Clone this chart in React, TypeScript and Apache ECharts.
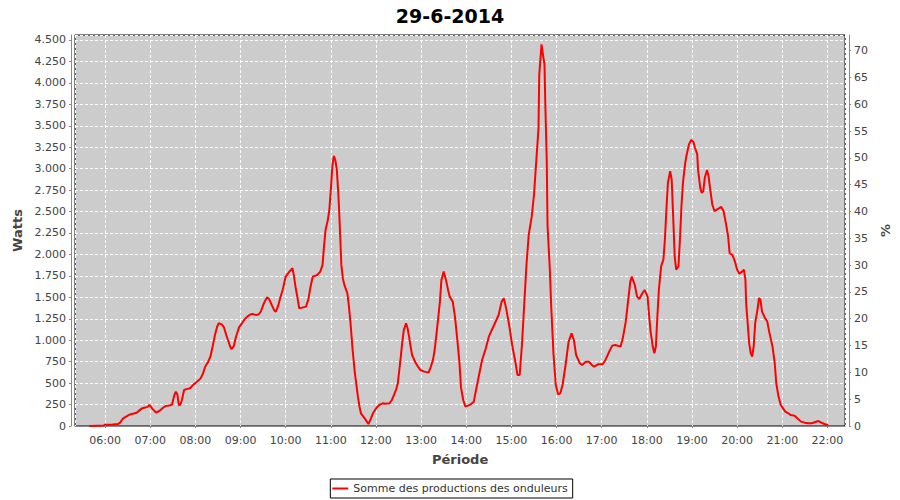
import React, { useEffect, useRef } from "react";
import * as echarts from "echarts";

const TITLE = "29-6-2014";
const SERIES_NAME = "Somme des productions des onduleurs";
const X_NAME = "Période";
const Y_LEFT_NAME = "Watts";
const Y_RIGHT_NAME = "%";

const TIMES = [
  "05:39","05:50","05:58","06:00","06:10","06:17","06:20","06:24","06:28","06:33",
  "06:38","06:42","06:46","06:49","06:53","06:56","06:59","07:03","07:08","07:12",
  "07:16","07:20","07:22","07:26","07:29","07:32","07:34","07:36","07:38","07:40",
  "07:42","07:45","07:48","07:53","07:57","08:00","08:04","08:07","08:10","08:13",
  "08:17","08:20","08:23","08:26","08:29","08:31","08:35","08:38","08:41","08:44",
  "08:46","08:48","08:51","08:54","08:58","09:02","09:06","09:09","09:13","09:16",
  "09:20","09:24","09:27","09:31","09:35","09:38","09:42","09:45","09:47","09:50",
  "09:53","09:56","10:00","10:05","10:09","10:11","10:13","10:16","10:18","10:22",
  "10:27","10:30","10:33","10:36","10:42","10:46","10:49","10:51","10:53","10:56",
  "10:58","11:00","11:02","11:04","11:06","11:08","11:10","11:11","11:13","11:14",
  "11:16","11:18","11:22","11:24","11:26","11:29","11:32","11:34","11:36","11:38",
  "11:40","11:45","11:50","11:53","11:56","11:59","12:02","12:05","12:09","12:13",
  "12:18","12:21","12:24","12:27","12:29","12:31","12:33","12:35","12:37","12:40",
  "12:42","12:44","12:46","12:48","12:53","12:56","12:59","13:04","13:10","13:13",
  "13:16","13:18","13:20","13:22","13:25","13:27","13:30","13:33","13:36","13:38",
  "13:42","13:45","13:47","13:49","13:51","13:53","13:56","13:59","14:03","14:06",
  "14:10","14:13","14:17","14:21","14:26","14:30","14:37","14:43","14:47","14:50",
  "14:53","14:57","15:01","15:06","15:08","15:11","15:14","15:17","15:20","15:23",
  "15:27","15:30","15:33","15:36","15:37","15:40","15:42","15:44","15:45","15:47",
  "15:48","15:51","15:53","15:56","15:59","16:02","16:05","16:08","16:12","16:16",
  "16:20","16:23","16:26","16:31","16:34","16:39","16:43","16:47","16:50","16:55",
  "17:01","17:05","17:10","17:14","17:18","17:25","17:28","17:32","17:35","17:38",
  "17:40","17:44","17:47","17:50","17:54","17:57","18:01","18:03","18:05","18:08",
  "18:10","18:12","18:14","18:16","18:19","18:22","18:24","18:26","18:28","18:31",
  "18:33","18:35","18:37","18:39","18:42","18:44","18:46","18:48","18:51","18:53",
  "18:56","18:59","19:02","19:04","19:07","19:08","19:11","19:13","19:15","19:17",
  "19:20","19:22","19:24","19:27","19:30","19:33","19:39","19:42","19:45","19:48",
  "19:50","19:54","19:57","20:00","20:03","20:07","20:09","20:11","20:12","20:14",
  "20:16","20:18","20:20","20:22","20:24","20:27","20:29","20:31","20:33","20:36",
  "20:40","20:43","20:47","20:50","20:52","20:55","20:58","21:01","21:04","21:08",
  "21:11","21:16","21:21","21:25","21:30","21:34","21:39","21:43","21:48","21:52",
  "21:56","22:01"
];

const WATTS = [
  0,3,5,15,18,22,40,90,110,135,
  145,155,185,205,215,220,245,200,155,175,
  205,230,237,240,250,360,400,370,240,250,
  300,420,430,440,480,500,530,555,610,690,
  750,810,930,1060,1160,1200,1185,1150,1060,985,
  930,895,930,1040,1150,1200,1250,1275,1300,1305,
  1295,1300,1335,1430,1500,1480,1400,1345,1334,1400,
  1500,1586,1742,1800,1839,1750,1625,1480,1372,1380,
  1392,1470,1620,1742,1761,1800,1878,2100,2286,2400,
  2519,2750,3025,3149,3100,2986,2700,2519,2100,1878,
  1720,1645,1547,1400,1217,886,614,480,342,230,
  148,89,23,80,148,190,225,250,264,260,
  264,300,362,430,498,650,809,980,1120,1198,
  1140,1042,930,828,731,690,653,634,622,692,
  780,886,1040,1198,1450,1703,1800,1703,1580,1508,
  1450,1275,1100,925,730,450,300,225,240,253,
  284,420,595,770,905,1041,1177,1294,1450,1488,
  1372,1177,944,711,595,595,944,1411,1877,2227,
  2440,2693,3082,3470,4092,4449,4325,4209,3781,3082,
  2343,1838,1372,828,478,369,381,478,711,983,
  1080,1003,828,731,711,750,750,711,692,719,
  719,770,867,937,944,925,1022,1216,1450,1683,
  1741,1644,1508,1481,1547,1586,1508,1290,1100,920,
  849,927,1277,1589,1861,1939,2173,2523,2835,2971,
  2874,2445,1978,1822,1861,2173,2562,2835,3068,3166,
  3283,3333,3310,3244,3166,2991,2776,2718,2737,2893,
  2983,2913,2776,2582,2504,2523,2554,2504,2368,2212,
  2017,1990,1920,1822,1776,1803,1822,1706,1433,1199,
  966,849,810,927,1199,1355,1491,1472,1336,1277,
  1219,1083,927,732,498,343,245,206,167,148,
  128,121,82,51,39,31,31,43,58,39,
  23,8
];

const X_MIN = "05:20";
const X_MAX = "22:23:30";
const Y_LEFT_MAX = 4558;
const Y_RIGHT_MAX = 72.9;

const FONT = "DejaVu Sans";

function toTs(s: string): number {
  const p = s.split(":").map(Number);
  return new Date(2014, 5, 29, p[0], p[1], p[2] || 0).getTime();
}

function fmtThousands(v: number): string {
  const s = String(Math.round(v));
  return s.replace(/\B(?=(\d{3})+(?!\d))/g, ".");
}

export default function App() {
  const ref = useRef<HTMLDivElement>(null);
  useEffect(() => {
    if (!ref.current) return;
    const chart = echarts.init(ref.current, null, { renderer: "svg" });
    const data = TIMES.map((t, i) => [toTs(t), WATTS[i]]);
    const axisGray = "#888888";
    const labelColor = "#444444";
    const nameStyle = { fontFamily: FONT, fontSize: 13, fontWeight: "bold", color: labelColor };
    chart.setOption({
      animation: false,
      backgroundColor: "#ffffff",
      title: {
        text: TITLE,
        left: "center",
        top: 1,
        textStyle: { fontFamily: FONT, fontSize: 19, fontWeight: "bold", color: "#000" },
      },
      grid: {
        left: 75,
        right: 53,
        top: 35,
        bottom: 74,
        show: true,
        backgroundColor: "#CCCCCC",
        borderColor: "#000000",
        borderWidth: 1,
      },
      legend: {
        bottom: 2,
        left: "center",
        borderColor: "#000",
        borderWidth: 1,
        borderRadius: 0,
        padding: [4, 5, 4, 2],
        icon: "rect",
        itemWidth: 16,
        itemHeight: 2,
        textStyle: { fontFamily: FONT, fontSize: 11, color: "#333" },
        data: [SERIES_NAME],
      },
      xAxis: {
        type: "time",
        min: toTs(X_MIN),
        max: toTs(X_MAX),
        minInterval: 3600 * 1000,
        maxInterval: 3600 * 1000,
        offset: 4,
        name: X_NAME,
        nameLocation: "middle",
        nameGap: 23,
        nameTextStyle: nameStyle,
        axisLine: { show: true, lineStyle: { color: axisGray } },
        axisTick: { show: true, length: 2, lineStyle: { color: axisGray } },
        axisLabel: {
          formatter: "{HH}:{mm}",
          showMinLabel: false,
          showMaxLabel: false,
          fontFamily: FONT,
          fontSize: 11,
          color: labelColor,
          margin: 5,
        },
        splitLine: { show: true, lineStyle: { color: "#ffffff", type: [3, 2], width: 1 } },
      },
      yAxis: [
        {
          type: "value",
          min: 0,
          max: Y_LEFT_MAX,
          interval: 250,
          offset: 4,
          name: Y_LEFT_NAME,
          nameLocation: "middle",
          nameGap: 40,
          nameTextStyle: nameStyle,
          axisLine: { show: true, lineStyle: { color: axisGray } },
          axisTick: { show: true, length: 2, lineStyle: { color: axisGray } },
          axisLabel: {
            formatter: (v: number) => fmtThousands(v),
            showMaxLabel: false,
            fontFamily: FONT,
            fontSize: 11,
            color: labelColor,
            margin: 5,
          },
          splitLine: { show: true, lineStyle: { color: "#ffffff", type: [3, 2], width: 1 } },
        },
        {
          type: "value",
          position: "right",
          min: 0,
          max: Y_RIGHT_MAX,
          interval: 5,
          offset: 4,
          name: Y_RIGHT_NAME,
          nameLocation: "middle",
          nameGap: 22,
          nameTextStyle: nameStyle,
          axisLine: { show: true, lineStyle: { color: axisGray } },
          axisTick: { show: true, length: 2, lineStyle: { color: axisGray } },
          axisLabel: {
            showMaxLabel: false,
            fontFamily: FONT,
            fontSize: 11,
            color: labelColor,
            margin: 5,
          },
          splitLine: { show: false },
        },
      ],
      series: [
        {
          type: "line",
          name: SERIES_NAME,
          data,
          yAxisIndex: 0,
          symbol: "none",
          showSymbol: false,
          lineStyle: { color: "#ff0000", width: 2 },
          itemStyle: { color: "#ff0000" },
        },
      ],
    });
    return () => chart.dispose();
  }, []);
  return <div ref={ref} style={{ width: 900, height: 500, position: "absolute", left: 0, top: 0 }} />;
}
